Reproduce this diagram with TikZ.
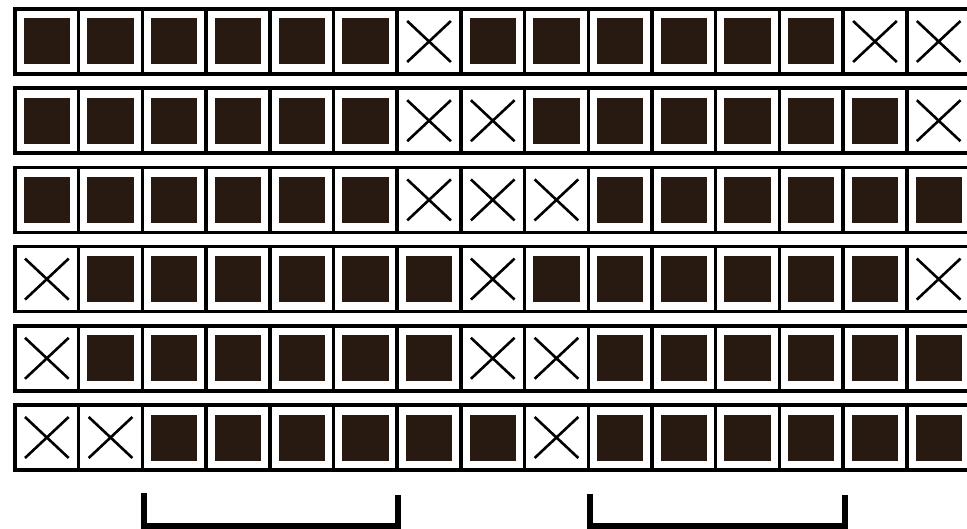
\documentclass[tikz,border=0pt]{standalone}
\begin{document}
\begin{tikzpicture}[x=1pt,y=-1pt]

\definecolor{cF}{RGB}{40,26,17}

\useasboundingbox (0,0) rectangle (967,529);
\fill[white] (0,0) rectangle (967,529);

\def\cw{63.7}
\def\rh{65}
\def\rp{79.2}

%% six rows of fifteen cells, crossed cells listed per row
\foreach \r/\xs in {1/{7,14,15}, 2/{7,8,15}, 3/{7,8,9}, 4/{1,8,15}, 5/{1,8,9}, 6/{1,2,9}} {
  \pgfmathsetmacro{\ytop}{9 + (\r-1)*\rp}
  \pgfmathsetmacro{\ybot}{\ytop + \rh}
  \foreach \c in {1,...,15} {
    \pgfmathsetmacro{\xl}{15 + (\c-1)*\cw}
    \fill[cF] (\xl+8.7,\ytop+9.5) rectangle (\xl+\cw-8.7,\ybot-9.5);
    \draw[line width=3.5pt] (\xl,\ytop) -- (\xl,\ybot);
  }
  \foreach \c in \xs {
    \pgfmathsetmacro{\xl}{15 + (\c-1)*\cw}
    \fill[white] (\xl+5,\ytop+5) rectangle (\xl+\cw-5,\ybot-5);
    \draw[line width=2.6pt] (\xl+10,\ytop+12) -- (\xl+\cw-10,\ybot-12)
                            (\xl+10,\ybot-12) -- (\xl+\cw-10,\ytop+12);
  }
  \draw[line width=3.5pt] (15,\ytop) rectangle (15+15*\cw,\ybot);
}

%% brackets below
\draw[line width=6pt, line join=miter] (143.5,493) -- (143.5,525.5) -- (398,525.5) -- (398,495);
\draw[line width=6pt, line join=miter] (590,494) -- (590,525.5) -- (845,525.5) -- (845,495);

\end{tikzpicture}
\end{document}
